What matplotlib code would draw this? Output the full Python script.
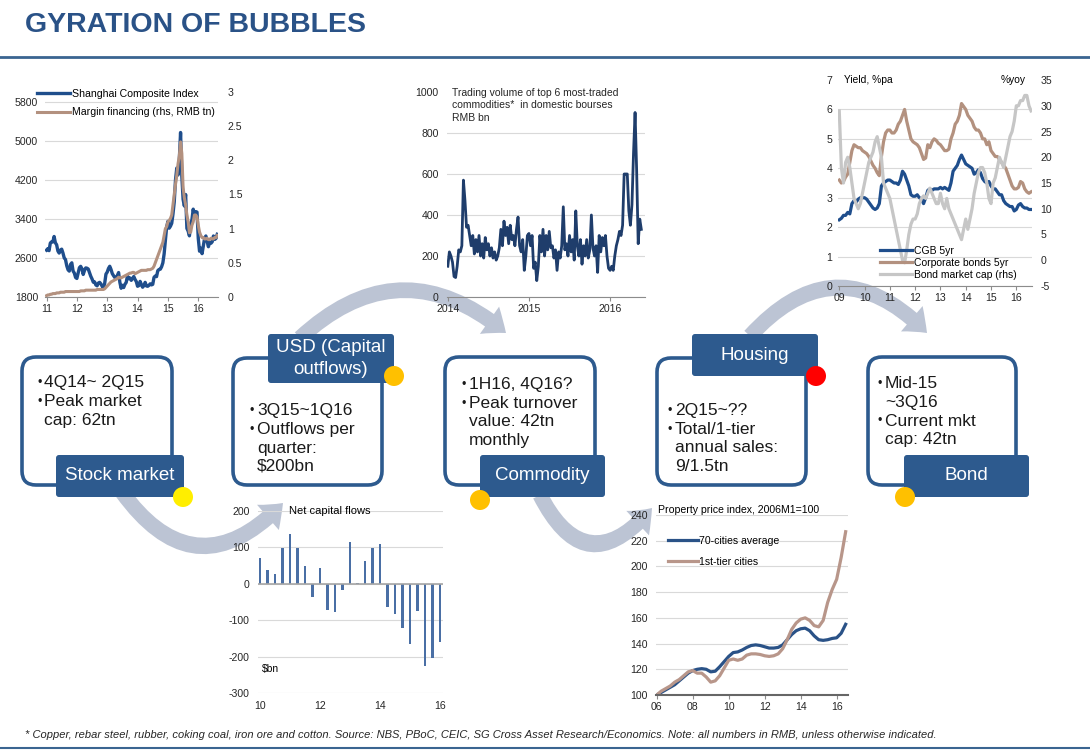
import numpy as np
import matplotlib
matplotlib.use("Agg")
import matplotlib.pyplot as plt
from matplotlib.patches import FancyBboxPatch, FancyArrowPatch, Circle

plt.rcParams['font.family'] = ['Liberation Sans', 'DejaVu Sans']
plt.rcParams['axes.unicode_minus'] = False

# ---------------- data ----------------
# Shanghai Composite Index, semi-monthly, Jan 2011 - Aug 2016
sci_2011 = [2760, 2790, 2750, 2905, 2930, 2928, 3040, 2911, 2870, 2743, 2700, 2762,
            2780, 2701, 2600, 2568, 2440, 2359, 2330, 2468, 2500, 2333, 2290, 2199]
sci_2012 = [2180, 2292, 2400, 2428, 2380, 2262, 2340, 2396, 2390, 2373, 2300, 2225,
            2170, 2103, 2110, 2047, 2030, 2086, 2100, 2069, 2020, 1980, 2080, 2269]
sci_2013 = [2310, 2385, 2430, 2365, 2280, 2237, 2200, 2178, 2240, 2301, 2100, 1979,
            2040, 1994, 2060, 2098, 2230, 2175, 2190, 2141, 2180, 2220, 2160, 2116]
sci_2014 = [2020, 2033, 2120, 2056, 2000, 2033, 2100, 2026, 2020, 2039, 2070, 2048,
            2060, 2202, 2230, 2217, 2340, 2364, 2370, 2420, 2500, 2683, 2950, 3235]
sci_2015 = [3350, 3210, 3250, 3310, 3500, 3748, 4200, 4442, 4300, 4612, 5170, 4277,
            3800, 3664, 3900, 3206, 3150, 3053, 3300, 3383, 3600, 3446, 3550, 3539]
sci_2016 = [3000, 2738, 2800, 2688, 2850, 3004, 3050, 2938, 2830, 2917, 2900, 2930,
            3050, 2979, 3000, 3085]

# margin financing, RMB tn (rhs)
margin_2011 = [0.02, 0.03, 0.03, 0.04, 0.04, 0.05, 0.05, 0.05, 0.06, 0.06, 0.06, 0.07,
               0.07, 0.07, 0.07, 0.08, 0.08, 0.08, 0.08, 0.08, 0.08, 0.08, 0.08, 0.08]
margin_2012 = [0.08, 0.08, 0.08, 0.09, 0.09, 0.09, 0.09, 0.10, 0.10, 0.10, 0.10, 0.10,
               0.10, 0.10, 0.10, 0.10, 0.11, 0.11, 0.11, 0.11, 0.11, 0.11, 0.12, 0.14]
margin_2013 = [0.16, 0.18, 0.20, 0.22, 0.23, 0.24, 0.25, 0.26, 0.27, 0.29, 0.28, 0.28,
               0.29, 0.30, 0.31, 0.32, 0.33, 0.34, 0.35, 0.35, 0.36, 0.36, 0.34, 0.35]
margin_2014 = [0.36, 0.37, 0.38, 0.39, 0.39, 0.39, 0.39, 0.39, 0.40, 0.40, 0.40, 0.41,
               0.42, 0.45, 0.50, 0.55, 0.60, 0.65, 0.70, 0.75, 0.80, 0.90, 1.00, 1.03]
margin_2015 = [1.10, 1.12, 1.15, 1.20, 1.35, 1.49, 1.65, 1.78, 1.95, 2.06, 2.27, 2.10,
               1.60, 1.45, 1.35, 1.20, 1.10, 0.94, 0.95, 1.05, 1.10, 1.20, 1.20, 1.17]
margin_2016 = [1.05, 0.95, 0.90, 0.87, 0.87, 0.85, 0.85, 0.86, 0.84, 0.84, 0.86, 0.85,
               0.85, 0.87, 0.87, 0.90]

# trading volume of top 6 commodities, weekly, RMB bn
vol_2014 = [150, 220, 200, 170, 100, 95, 150, 230, 220, 250, 570, 470, 340, 350, 300, 250,
            300, 210, 280, 220, 300, 200, 260, 190, 290, 230, 260, 200, 240, 190, 220, 180,
            200, 240, 330, 250, 370, 300, 340, 260, 350, 280, 300, 250, 330, 390, 250, 220,
            280, 130, 200, 300]
vol_2015 = [310, 250, 300, 140, 170, 80, 150, 300, 220, 330, 200, 300, 230, 320, 240, 250,
            190, 230, 130, 220, 190, 250, 440, 230, 260, 200, 300, 220, 280, 180, 420, 250,
            200, 280, 160, 250, 200, 280, 190, 230, 400, 240, 200, 250, 120, 300, 220, 290,
            250, 300, 200, 140]
vol_2016 = [130, 150, 130, 200, 250, 280, 320, 300, 350, 600, 600, 600, 420, 350, 450, 700,
            900, 620, 260, 380, 330]

# bond yields (%pa) and bond market cap (%yoy, rhs), monthly Jan 2009 - Aug 2016
cgb = [2.25, 2.3, 2.4, 2.4, 2.5, 2.45, 2.8, 2.9, 2.85, 2.95, 3.0, 3.0,
       3.0, 2.95, 2.85, 2.75, 2.65, 2.6, 2.65, 2.8, 3.4, 3.5, 3.55, 3.6,
       3.6, 3.55, 3.5, 3.5, 3.45, 3.6, 3.9, 3.8, 3.6, 3.4, 3.1, 3.05,
       3.05, 3.1, 3.0, 2.95, 2.8, 3.0, 3.25, 3.3, 3.25, 3.3, 3.3, 3.3,
       3.35, 3.3, 3.35, 3.3, 3.25, 3.5, 3.9, 4.0, 4.1, 4.3, 4.45, 4.3,
       4.15, 4.1, 4.05, 4.0, 3.8, 3.85, 3.95, 3.85, 3.65, 3.55, 3.5, 3.55,
       3.4, 3.3, 3.3, 3.2, 3.1, 3.1, 2.9, 2.8, 2.75, 2.7, 2.7, 2.55,
       2.6, 2.75, 2.8, 2.7, 2.65, 2.65, 2.6, 2.6]
corp = [3.6, 3.5, 3.55, 3.7, 3.8, 4.2, 4.6, 4.8, 4.75, 4.7, 4.7, 4.6,
        4.55, 4.5, 4.4, 4.25, 4.1, 4.0, 3.85, 3.75, 4.4, 4.9, 5.2, 5.3,
        5.3, 5.2, 5.2, 5.3, 5.5, 5.6, 5.8, 6.0, 5.6, 5.3, 5.0, 4.9,
        4.85, 4.8, 4.7, 4.5, 4.3, 4.35, 4.8, 4.7, 4.9, 5.0, 4.95, 4.85,
        4.8, 4.7, 4.6, 4.6, 4.65, 5.0, 5.2, 5.5, 5.6, 5.8, 6.2, 6.1,
        6.0, 5.8, 5.7, 5.6, 5.4, 5.3, 5.3, 5.2, 5.0, 5.0, 4.8, 4.9,
        4.6, 4.5, 4.4, 4.4, 4.3, 4.2, 4.1, 4.0, 3.8, 3.6, 3.4, 3.3,
        3.3, 3.35, 3.55, 3.5, 3.3, 3.2, 3.15, 3.2]
bond_cap = [29, 18, 15, 19, 20, 18, 15, 12, 11, 10, 11, 13,
            15, 17, 19, 20, 21, 23, 24, 22, 20, 15, 14, 13,
            12, 10, 8, 6, 4, 2, 0, -0.5, 2, 5, 7, 8,
            8, 9, 11, 12, 12.5, 12, 13, 14, 13, 12, 11, 11,
            13, 11, 10, 12, 10, 9, 8, 7, 6, 5, 4, 6,
            8, 6, 8, 10, 13, 15, 17, 18, 18, 17, 15, 12,
            11, 15, 16, 18, 20, 19, 18, 20, 22, 24, 25, 27,
            30, 30, 31, 31, 32, 32, 30, 29]

# net capital flows, $bn, quarterly 1Q10 - 1Q16
flows = [70, 37, 26, 99, 138, 97, 49, -37, 44, -71, -77, -18, 115, 2, 64, 99, 108,
         -63, -84, -121, -165, -75, -227, -205, -160]

# property price index, 2006M1=100, quarterly 1Q06 - 3Q16
prop_70 = [100, 102, 104, 106, 108, 111, 114, 117, 119, 120, 120.5, 120, 118, 118.5, 122,
           126, 130, 133, 133.5, 135, 137, 138.5, 139, 138.5, 137.5, 136.5, 136.5, 137,
           139, 143, 147, 150, 151.5, 152, 150, 146, 143, 142.5, 143, 144, 144.5, 148, 155]
prop_1t = [100, 103, 105, 107, 110, 112, 115, 118, 119, 117, 117, 114, 110, 111, 115,
           121, 127, 128, 127, 128, 131, 132, 132, 131.5, 130.5, 130, 130.5, 132,
           136, 143, 151, 156, 159, 160, 158, 154, 153, 158, 172, 182, 190, 207, 227]

stock_text = ['•4Q14~ 2Q15', '•Peak market', ' cap: 62tn']
usd_text = ['•3Q15~1Q16', '•Outflows per', ' quarter:', ' $200bn']
comm_text = ['•1H16, 4Q16?', '•Peak turnover', ' value: 42tn', ' monthly']
house_text = ['•2Q15~??', '•Total/1-tier', ' annual sales:', ' 9/1.5tn']
bond_text = ['•Mid-15', ' ~3Q16', '•Current mkt', ' cap: 42tn']

footer = ('* Copper, rebar steel, rubber, coking coal, iron ore and cotton. Source: NBS, PBoC, '
          'CEIC, SG Cross Asset Research/Economics. Note: all numbers in RMB, unless otherwise indicated.')

# ---------------- layout ----------------
W, H = 1090, 755
NAVY = '#2d5a8e'
BLUE = '#1f4e8c'
BROWN = '#b3917f'
GREY = '#c6c6c6'
ARROW = '#bcc4d4'
GRID = '#d9d9d9'

fig = plt.figure(figsize=(W / 100, H / 100), dpi=100)
bg = fig.add_axes([0, 0, 1, 1])
bg.set_xlim(0, W)
bg.set_ylim(H, 0)
bg.axis('off')


def px(x0, y0, x1, y1):
    return [x0 / W, 1 - y1 / H, (x1 - x0) / W, (y1 - y0) / H]


def style(ax):
    for s in ['top', 'right', 'left']:
        ax.spines[s].set_visible(False)
    ax.spines['bottom'].set_color('#8c8c8c')
    ax.tick_params(axis='y', length=0, labelsize=7.6, labelcolor='#262626')
    ax.tick_params(axis='x', length=3, color='#8c8c8c', labelsize=7.6,
                   labelcolor='#262626', pad=2)
    ax.yaxis.grid(True, color=GRID, lw=0.8)
    ax.set_axisbelow(True)
    ax.patch.set_visible(False)


def style_twin(ax):
    for s in ax.spines.values():
        s.set_visible(False)
    ax.tick_params(axis='y', length=0, labelsize=7.6, labelcolor='#262626')


# title and rules
bg.text(25, 25, 'GYRATION OF BUBBLES', fontsize=20.5, fontweight='bold', color='#2a5287',
        va='center', ha='left')
bg.axhline(57, color='#3a6591', lw=2)
bg.axhline(748, color='#3a6591', lw=1.5)
bg.text(25, 735, footer, fontsize=8, style='italic', va='center', ha='left',
        family=['Liberation Sans Narrow', 'Liberation Sans'], color='#262626')

# circular flow arrows
for a, b, rad in [((122, 492), (283, 503), 0.6), ((300, 338), (506, 333), -0.44),
                  ((540, 495), (652, 508), 0.75), ((750, 336), (927, 333), -0.53)]:
    bg.add_patch(FancyArrowPatch(a, b, connectionstyle=f'arc3,rad={rad}',
                                 arrowstyle='simple,head_length=15,head_width=24,tail_width=11',
                                 color=ARROW, mutation_scale=1, shrinkA=0, shrinkB=0,
                                 lw=0, zorder=1))

# boxes
outlines = [(22, 357, 172, 485), (233, 358, 382, 485), (445, 357, 595, 485),
            (657, 358, 806, 485), (868, 357, 1016, 485)]
for x0, y0, x1, y1 in outlines:
    bg.add_patch(FancyBboxPatch((x0, y0), x1 - x0, y1 - y0,
                                boxstyle='round,pad=0,rounding_size=14',
                                fc='white', ec=NAVY, lw=2.6, zorder=2))

labels = [(56, 455, 184, 497, ['Stock market']), (268, 334, 394, 383, ['USD (Capital', 'outflows)']),
          (480, 455, 605, 497, ['Commodity']), (692, 334, 818, 376, ['Housing']),
          (904, 455, 1029, 497, ['Bond'])]
for x0, y0, x1, y1, txt in labels:
    bg.add_patch(FancyBboxPatch((x0, y0), x1 - x0, y1 - y0,
                                boxstyle='round,pad=0,rounding_size=3',
                                fc=NAVY, ec='none', zorder=3))
    yc = (y0 + y1) / 2 - (len(txt) - 1) * 10.5
    for i, t in enumerate(txt):
        bg.text((x0 + x1) / 2, yc + i * 21, t, color='white', fontsize=13.5,
                ha='center', va='center', zorder=4)

for (x, y), c in [((183, 497), '#ffee00'), ((394, 376), '#ffc000'), ((480, 500), '#ffc000'),
                  ((816, 376), '#ff0000'), ((905, 497), '#ffc000')]:
    bg.add_patch(Circle((x, y), 10, fc=c, ec='none', zorder=5))

for x, y, lines in [(37, 383, stock_text), (250, 411, usd_text), (462, 385, comm_text),
                    (668, 411, house_text), (878, 384, bond_text)]:
    for i, t in enumerate(lines):
        yy = y + i * 18.5
        if t.startswith('•'):
            bg.text(x, yy, '•', fontsize=9, color='#1a1a1a', ha='left', va='center', zorder=4)
        bg.text(x + 7, yy, t.lstrip('• '), fontsize=12.5, color='#1a1a1a',
                ha='left', va='center', zorder=4)

# ---- chart 1: stock market ----
sci = sci_2011 + sci_2012 + sci_2013 + sci_2014 + sci_2015 + sci_2016
margin = margin_2011 + margin_2012 + margin_2013 + margin_2014 + margin_2015 + margin_2016
x1 = 2011 + np.arange(len(sci)) / 24
ax1 = fig.add_axes(px(45, 92, 218, 297))
style(ax1)
l1, = ax1.plot(x1, sci, color=BLUE, lw=2.4, label='Shanghai Composite Index')
ax1.set_ylim(1800, 6000)
ax1.set_yticks(np.arange(1800, 5801, 800))
ax1.set_xlim(2010.95, 2016.65)
ax1.set_xticks(range(2011, 2017))
ax1.set_xticklabels([str(y)[2:] for y in range(2011, 2017)])
ax1.tick_params(axis='y', pad=5)
ax1r = ax1.twinx()
style_twin(ax1r)
l2, = ax1r.plot(x1, margin, color=BROWN, lw=2.2, label='Margin financing (rhs, RMB tn)')
ax1r.set_ylim(0, 3)
ax1r.set_yticks(np.arange(0, 3.01, 0.5))
ax1r.set_yticklabels(['0', '0.5', '1', '1.5', '2', '2.5', '3'])
ax1r.tick_params(axis='y', pad=7)
ax1r.legend([l1, l2], [l1.get_label(), l2.get_label()], loc='upper left',
            bbox_to_anchor=(37 / W, 1 - 89 / H), bbox_transform=fig.transFigure,
            frameon=False, fontsize=7.6, handlelength=3.1, handletextpad=0.2,
            labelspacing=0.8, borderpad=0, borderaxespad=0)

# ---- chart 2: commodity turnover ----
vol = vol_2014 + vol_2015 + vol_2016
x2 = 2014 + np.arange(len(vol)) / 52
ax2 = fig.add_axes(px(447, 92, 645, 297))
style(ax2)
ax2.plot(x2, vol, color='#1f3d6b', lw=2.0)
ax2.set_ylim(0, 1000)
ax2.set_yticks(range(0, 1001, 200))
ax2.set_xlim(2013.99, 2016.43)
ax2.set_xticks([2014, 2015, 2016])
ax2.set_xticklabels(['2014', '2015', '2016'])
ax2.tick_params(axis='y', pad=6)
ax2.yaxis.get_major_ticks()[-1].gridline.set_visible(False)
ax2.text(0.025, 1.02, 'Trading volume of top 6 most-traded\ncommodities*  in domestic bourses\nRMB bn',
         transform=ax2.transAxes, fontsize=7.5, va='top', ha='left', linespacing=1.3,
         color='#262626')

# ---- chart 3: bonds ----
x3 = 2009 + np.arange(len(cgb)) / 12
ax3 = fig.add_axes(px(838, 80, 1032, 286))
style(ax3)
b1, = ax3.plot(x3, cgb, color=BLUE, lw=2.3, label='CGB 5yr')
b2, = ax3.plot(x3, corp, color=BROWN, lw=2.3, label='Corporate bonds 5yr')
ax3.set_ylim(0, 7)
ax3.set_yticks(range(0, 8))
ax3.set_xlim(2008.95, 2016.62)
ax3.set_xticks(range(2009, 2017))
ax3.set_xticklabels(['%02d' % (y - 2000) for y in range(2009, 2017)])
ax3.tick_params(axis='y', pad=4)
ax3.yaxis.get_major_ticks()[-1].gridline.set_visible(False)
ax3r = ax3.twinx()
style_twin(ax3r)
b3, = ax3r.plot(x3, bond_cap, color=GREY, lw=2.3, label='Bond market cap (rhs)')
ax3r.set_ylim(-5, 35)
ax3r.set_yticks(range(-5, 36, 5))
ax3r.tick_params(axis='y', pad=6)
ax3r.text(0.03, 1.0, 'Yield, %pa', transform=ax3.transAxes, fontsize=7.4, va='center', ha='left')
ax3r.text(0.965, 1.0, '%yoy', transform=ax3.transAxes, fontsize=7.4, va='center', ha='right')
ax3r.legend([b1, b2, b3], [b1.get_label(), b2.get_label(), b3.get_label()], loc='upper left',
            bbox_to_anchor=(880 / W, 1 - 246 / H), bbox_transform=fig.transFigure,
            frameon=False, fontsize=7.5, handlelength=3.1, handletextpad=0.15,
            labelspacing=0.17, borderpad=0, borderaxespad=0)

# ---- chart 4: net capital flows ----
x4 = 2010 + np.arange(len(flows)) / 4
ax4 = fig.add_axes(px(258, 511, 443, 693))
style(ax4)
ax4.spines['bottom'].set_visible(False)
ax4.bar(x4, flows, width=0.08, color='#4a6fa5')
ax4.axhline(0, color='#a6a6a6', lw=1.2, zorder=1)
ax4.set_ylim(-300, 200)
ax4.set_yticks(range(-300, 201, 100))
ax4.set_xlim(2009.93, 2016.1)
ax4.set_xticks([2010, 2012, 2014, 2016])
ax4.set_xticklabels(['10', '12', '14', '16'])
ax4.tick_params(axis='x', length=0, pad=6)
ax4.tick_params(axis='y', pad=6)
ax4.text(0.17, 1.0, 'Net capital flows', transform=ax4.transAxes, fontsize=8, va='center')
ax4.text(0.02, 0.13, r'\$bn', transform=ax4.transAxes, fontsize=7.4, va='center')

# ---- chart 5: property prices ----
x5 = 2006 + np.arange(len(prop_70)) / 4
ax5 = fig.add_axes(px(656, 515, 848, 695))
style(ax5)
ax5.spines['bottom'].set_color('#666666')
ax5.spines['bottom'].set_linewidth(1.5)
p1, = ax5.plot(x5, prop_70, color='#2a5287', lw=2.3, label='70-cities average')
p2, = ax5.plot(x5, prop_1t, color='#b8968a', lw=2.3, label='1st-tier cities')
ax5.set_ylim(100, 240)
ax5.set_yticks(range(100, 241, 20))
ax5.set_xlim(2005.96, 2016.63)
ax5.set_xticks(range(2006, 2017, 2))
ax5.set_xticklabels(['%02d' % (y - 2000) for y in range(2006, 2017, 2)])
ax5.tick_params(axis='y', pad=6)
ax5.text(0.01, 1.03, 'Property price index, 2006M1=100', transform=ax5.transAxes,
         fontsize=7.6, va='center', ha='left')
ax5.legend(loc='upper left', bbox_to_anchor=(668 / W, 1 - 536 / H),
           bbox_transform=fig.transFigure, frameon=False, fontsize=7.6,
           handlelength=2.8, handletextpad=0.15, labelspacing=1.0,
           borderpad=0, borderaxespad=0)

fig.savefig('out.png', dpi=100)
